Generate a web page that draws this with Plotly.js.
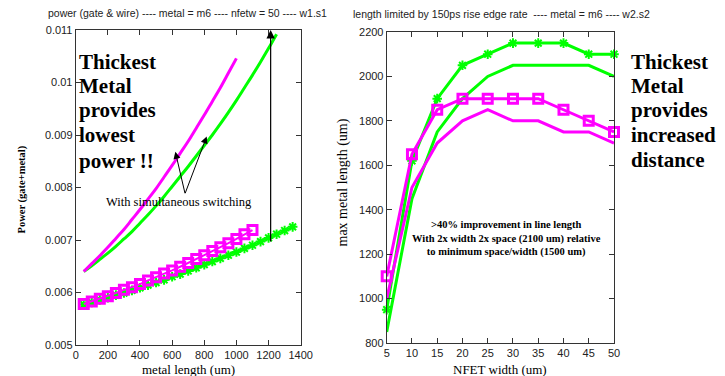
<!DOCTYPE html>
<html>
<head>
<meta charset="utf-8">
<script src="https://cdn.plot.ly/plotly-3.0.1.min.js"></script>
<style>html,body{margin:0;padding:0;background:#fff;}#chart{width:725px;height:376px;}</style>
</head>
<body>
<div id="chart"></div>
<script>
// ---------- Left chart data: power vs metal length ----------
const sqLen = [50,100,150,200,250,300,350,400,450,500,550,600,650,700,750,800,850,900,950,1000,1050,1100];
const sqPower = [0.00578,0.00583,0.00588,0.00593,0.00599,0.00605,0.0061,0.00616,0.00623,0.00629,0.00636,0.00642,0.00649,0.00656,0.00664,0.00671,0.00679,0.00686,0.00694,0.00702,0.00711,0.00719];
const starLen = [50,100,150,200,250,300,350,400,450,500,550,600,650,700,750,800,850,900,950,1000,1050,1100,1150,1200,1250,1300,1350];
const starPower = [0.00577,0.00581,0.00586,0.0059,0.00595,0.00599,0.00604,0.00609,0.00614,0.00619,0.00624,0.0063,0.00635,0.00641,0.00647,0.00653,0.00659,0.00665,0.00671,0.00677,0.00684,0.0069,0.00697,0.00704,0.00711,0.00718,0.00725];
const magSimLen = [50,100,150,200,250,300,350,400,450,500,550,600,650,700,750,800,850,900,950,1000];
const magSimPower = [0.0064,0.00655,0.0067,0.00686,0.00703,0.0072,0.00739,0.00758,0.00778,0.00798,0.0082,0.00842,0.00865,0.00888,0.00913,0.00938,0.00964,0.0099,0.01018,0.01046];
const grnSimLen = [50,100,150,200,250,300,350,400,450,500,550,600,650,700,750,800,850,900,950,1000,1050,1100,1150,1200,1250];
const grnSimPower = [0.0064,0.00651,0.00663,0.00675,0.00688,0.00702,0.00716,0.00732,0.00748,0.00765,0.00783,0.00802,0.00821,0.0084,0.0086,0.0088,0.009,0.00921,0.00943,0.00966,0.0099,0.01014,0.01039,0.01065,0.01092];
const leftXTicks = [0,200,400,600,800,1000,1200,1400];
const leftYTicks = [0.005,0.006,0.007,0.008,0.009,0.01,0.011];
const leftYTickText = ['0.005','0.006','0.007','0.008','0.009','0.01','0.011'];

// ---------- Right chart data: max metal length vs NFET width ----------
const nfetWidth = [5,10,15,20,25,30,35,40,45,50];
const greenStarLen = [950,1620,1900,2050,2100,2150,2150,2150,2100,2100];
const greenPlainLen = [850,1450,1750,1900,2000,2050,2050,2050,2050,2000];
const magSqLen = [1100,1650,1850,1900,1900,1900,1900,1850,1800,1750];
const magPlainLen = [1000,1500,1700,1800,1850,1800,1800,1750,1750,1700];
const rightXTicks = [5,10,15,20,25,30,35,40,45,50];
const rightYTicks = [800,1000,1200,1400,1600,1800,2000,2200];

const MAG = '#ff00ff', GRN = '#00ff00';
const SERIF = 'Liberation Serif, Times New Roman, serif';
const SANS = 'Liberation Sans, Arial, sans-serif';

const sqMarker = {symbol:'square-open', size:9, color:MAG, line:{color:MAG, width:3}};
const starMarker = {symbol:'asterisk-open', size:8, color:GRN, line:{color:GRN, width:2}};

const traces = [
  {x: starLen, y: starPower, xaxis:'x', yaxis:'y', mode:'lines+markers', cliponaxis:false,
   line:{color:GRN, width:2}, marker:starMarker},
  {x: sqLen, y: sqPower, xaxis:'x', yaxis:'y', mode:'lines+markers', cliponaxis:false,
   line:{color:MAG, width:2}, marker:sqMarker},
  {x: grnSimLen, y: grnSimPower, xaxis:'x', yaxis:'y', mode:'lines', line:{color:GRN, width:3, shape:'spline'}},
  {x: magSimLen, y: magSimPower, xaxis:'x', yaxis:'y', mode:'lines', line:{color:MAG, width:3, shape:'spline'}},

  {x: nfetWidth, y: greenPlainLen, xaxis:'x2', yaxis:'y2', mode:'lines', line:{color:GRN, width:3}},
  {x: nfetWidth, y: greenStarLen, xaxis:'x2', yaxis:'y2', mode:'lines+markers', cliponaxis:false,
   line:{color:GRN, width:3}, marker:starMarker},
  {x: nfetWidth, y: magPlainLen, xaxis:'x2', yaxis:'y2', mode:'lines', line:{color:MAG, width:3}},
  {x: nfetWidth, y: magSqLen, xaxis:'x2', yaxis:'y2', mode:'lines+markers', cliponaxis:false,
   line:{color:MAG, width:3}, marker:sqMarker}
];

const W = 725, H = 376;
const px = v => v / W;
const py = v => 1 - v / H;

const axisCommon = {
  showgrid:false, zeroline:false, showline:true, linecolor:'#333', linewidth:1,
  ticks:'inside', ticklen:5, tickwidth:1, tickcolor:'#333', mirror:'allticks',
  tickfont:{family:SANS, size:11, color:'#222'}, automargin:false, fixedrange:true
};

function ann(text, x, y, opts) {
  return Object.assign({text:text, x:x, y:y, xref:'paper', yref:'paper', showarrow:false,
    xanchor:'center', yanchor:'middle'}, opts || {});
}
const bigFont = {family:SERIF, size:21, color:'#000'};

const annotations = [
  ann('power (gate &amp; wire) ---- metal = m6 ---- nfetw = 50 ---- w1.s1', px(187), py(13), {font:{family:SANS, size:10.5, color:'#222'}}),
  ann('length limited by 150ps rise edge rate  ---- metal = m6 ---- w2.s2', px(501), py(14), {font:{family:SANS, size:10.5, color:'#222'}}),
  ann('metal length (um)', px(188), py(369), {borderpad:0, font:{family:SERIF, size:13, color:'#000'}}),
  ann('NFET width (um)', px(500), py(369), {borderpad:0, font:{family:SERIF, size:13, color:'#000'}}),
  ann('<b>Power (gate+metal)</b>', px(21.5), py(190), {textangle:-90, font:{family:SERIF, size:10.5, color:'#000'}}),
  ann('max metal length (um)', px(342.5), py(183), {textangle:-90, font:{family:SERIF, size:14, color:'#000'}}),

  ann('<b>Thickest</b>', px(77), py(61.7), {xanchor:'left', font:bigFont}),
  ann('<b>Metal</b>', px(77), py(85.5), {xanchor:'left', font:bigFont}),
  ann('<b>provides</b>', px(77), py(110), {xanchor:'left', font:bigFont}),
  ann('<b>lowest</b>', px(77), py(135), {xanchor:'left', font:bigFont}),
  ann('<b>power !!</b>', px(77), py(161), {xanchor:'left', font:bigFont}),

  ann('<b>Thickest</b>', px(629), py(61.7), {xanchor:'left', font:bigFont}),
  ann('<b>Metal</b>', px(629), py(85.5), {xanchor:'left', font:bigFont}),
  ann('<b>provides</b>', px(629), py(110), {xanchor:'left', font:bigFont}),
  ann('<b>increased</b>', px(629), py(135), {xanchor:'left', font:bigFont}),
  ann('<b>distance</b>', px(629), py(160), {xanchor:'left', font:bigFont}),

  ann('With simultaneous switching', px(179), py(201.5), {font:{family:SERIF, size:12.5, color:'#000'}}),
  ann('<b>&gt;40% improvement in line length<br>With 2x width 2x space (2100 um) relative<br>to minimum space/width (1500 um)</b>',
      px(506.5), py(239), {font:{family:SERIF, size:10.5, color:'#000'}}),

  // arrows
  {text:'', xref:'x', yref:'y', x:620, y:0.00868, ax:10, ay:43, showarrow:true, arrowhead:2, arrowsize:1.4, arrowwidth:1, arrowcolor:'#000', standoff:0},
  {text:'', xref:'x', yref:'y', x:815, y:0.00897, ax:-22, ay:58, showarrow:true, arrowhead:2, arrowsize:1.4, arrowwidth:1, arrowcolor:'#000', standoff:0},
  {text:'', xref:'x', yref:'y', x:1213, y:0.011, ax:0, ay:213, showarrow:true, arrowhead:2, arrowsize:1.4, arrowwidth:1.2, arrowcolor:'#000', standoff:0}
];

const layout = {
  width:W, height:H, margin:{l:0, r:0, t:0, b:0, pad:0},
  paper_bgcolor:'#fff', plot_bgcolor:'#fff', showlegend:false,
  xaxis: Object.assign({}, axisCommon, {domain:[px(75.7), px(300.7)], range:[0,1400], tickvals:leftXTicks, anchor:'y'}),
  yaxis: Object.assign({}, axisCommon, {domain:[py(345), py(30)], range:[0.005,0.011], tickvals:leftYTicks, ticktext:leftYTickText, anchor:'x'}),
  xaxis2: Object.assign({}, axisCommon, {domain:[px(386.7), px(614)], range:[5,50], tickvals:rightXTicks, anchor:'y2'}),
  yaxis2: Object.assign({}, axisCommon, {domain:[py(343), py(32)], range:[800,2200], tickvals:rightYTicks, anchor:'x2'}),
  annotations: annotations
};

Plotly.newPlot('chart', traces, layout, {staticPlot:true, displayModeBar:false});
</script>
</body>
</html>
